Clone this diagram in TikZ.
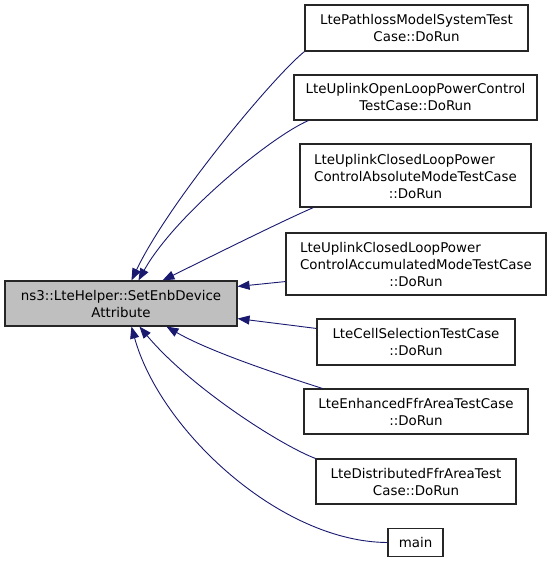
\documentclass[tikz,border=0pt]{standalone}
\usepackage{fontspec}
\setmainfont{DejaVu Sans}
\usetikzlibrary{arrows.meta,calc}
\definecolor{edgeblue}{HTML}{191970}
\definecolor{mainfill}{HTML}{BFBFBF}
\begin{document}
\begin{tikzpicture}[x=1pt,y=-1pt,
  box/.style={draw=black!85, line width=1.1pt, fill=white, inner sep=0pt, align=center,
    font=\fontsize{13.4}{17}\selectfont},
  edge/.style={draw=edgeblue, line width=0.9pt, -{Triangle[length=12pt,width=9pt]}, fill=none},
]
\useasboundingbox (0,0) rectangle (552,563);
% nodes
\node[box, fill=mainfill, minimum width=232, minimum height=45] (main) at (121,303.5)
  {ns3::LteHelper::SetEnbDevice\\Attribute};
\node[box, minimum width=223, minimum height=46] (b1) at (416.5,28)
  {LtePathlossModelSystemTest\\Case::DoRun};
\node[box, minimum width=243, minimum height=45] (b2) at (415.5,97.5)
  {LteUplinkOpenLoopPowerControl\\TestCase::DoRun};
\node[box, minimum width=231, minimum height=63] (b3) at (415.5,175.5)
  {\begin{tabular}[b]{@{}l@{}}LteUplinkClosedLoopPower\\ControlAbsoluteModeTestCase\end{tabular}\\::DoRun};
\node[box, minimum width=260, minimum height=62] (b4) at (416,264)
  {\begin{tabular}[b]{@{}l@{}}LteUplinkClosedLoopPower\\ControlAccumulatedModeTestCase\end{tabular}\\::DoRun};
\node[box, minimum width=198, minimum height=46] (b5) at (416,342)
  {LteCellSelectionTestCase\\::DoRun};
\node[box, minimum width=224, minimum height=45] (b6) at (416,411.5)
  {LteEnhancedFfrAreaTestCase\\::DoRun};
\node[box, minimum width=200, minimum height=45] (b7) at (416,481.5)
  {LteDistributedFfrAreaTest\\Case::DoRun};
\node[box, minimum width=55, minimum height=28] (b8) at (415.5,542.5)
  {main};
% edges
\draw[edge] (b1.south west) .. controls (275,75) and (170,200) .. ([xshift=127pt]main.north west);
\draw[edge] ([xshift=15pt]b2.south west) .. controls (272,136) and (175,215) .. ([xshift=134pt]main.north west);
\draw[edge] ([xshift=14pt]b3.south west) .. controls (280,222) and (200,262) .. ([xshift=158pt]main.north west);
\draw[edge] ([yshift=14pt]b4.south west) -- ([yshift=-6pt]main.north east);
\draw[edge] ([yshift=-10pt]b5.north west) -- ([yshift=8pt]main.south east);
\draw[edge] ([xshift=19pt]b6.north west) .. controls (290,378) and (212,353) .. ([xshift=162pt]main.south west);
\draw[edge] (b7.north west) .. controls (280,445) and (190,387) .. ([xshift=135pt]main.south west);
\draw[edge] (b8.west) .. controls (280,542) and (160,430) .. ([xshift=127pt]main.south west);
\end{tikzpicture}
\end{document}
